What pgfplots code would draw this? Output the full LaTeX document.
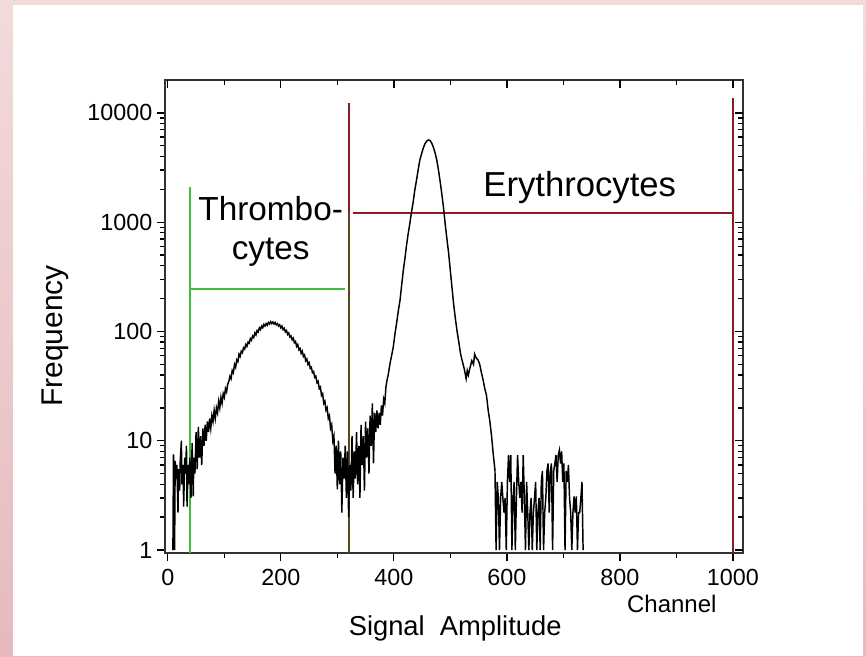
\documentclass[border=0pt]{standalone}
\usepackage{fontspec}
\setmainfont{Liberation Sans}
\usepackage{pgfplots}
\pgfplotsset{compat=1.18}

\definecolor{pinktop}{RGB}{242,218,219}
\definecolor{pinkbot}{RGB}{230,186,191}
\definecolor{thrgreen}{RGB}{60,190,60}
\definecolor{eryred}{RGB}{140,25,35}
\definecolor{olivedark}{RGB}{85,75,30}
\definecolor{framegray}{RGB}{50,50,50}

\begin{document}
\begin{tikzpicture}
% page background: pink border and white panel (866 x 656 px, 1px = 0.75pt)
\shade[top color=pinktop, bottom color=pinkbot] (0pt,0pt) rectangle (649.5pt,492pt);
\fill[white] (9.75pt,0pt) rectangle (647.25pt,488.25pt);

\begin{axis}[
  at={(123.75pt,77.25pt)}, anchor=south west,
  scale only axis, width=433.5pt, height=354.75pt,
  xmin=-5, xmax=1018,
  ymode=log, ymin=0.94, ymax=20000,
  xtick={0,200,...,1000}, minor xtick={100,300,...,900},
  ytick={1,10,100,1000,10000},
  minor ytick={2,3,...,9,20,30,...,90,200,300,...,900,2000,3000,...,9000},
  major tick length=6pt, minor tick length=3.5pt,
  tick style={line width=1pt, black},
  xtick pos=left, ytick pos=left, tick align=outside,
  xticklabels={0,200,400,600,800,1000},
  yticklabels={1,10,100,1000,10000},
  ticklabel style={font=\fontsize{17.5}{17.5}\selectfont},
  xticklabel style={yshift=-3pt},
  axis line style={line width=1.7pt, framegray},
  xlabel={Signal\ \ Amplitude},
  xlabel style={font=\fontsize{20.5}{20.5}\selectfont, at={(axis description cs:0.502,0)}, anchor=base, yshift=-61.5pt},
  ylabel={Frequency},
  ylabel style={font=\fontsize{22.5}{22.5}\selectfont, at={(axis description cs:-0.178,0.459)}, anchor=base},
  clip=false,
]
% region markers
\addplot[thrgreen, line width=1.5pt] coordinates {(39,0.94) (39,2100)};
\addplot[thrgreen, line width=1.3pt] coordinates {(39,245) (313,245)};
\addplot[eryred, line width=1.5pt] coordinates {(320,0.94) (320,12300)};
\addplot[olivedark, line width=1.5pt] coordinates {(320,0.94) (320,1216)};
\addplot[eryred, line width=1.3pt] coordinates {(327,1216) (998,1216)};
\addplot[eryred, line width=1.5pt] coordinates {(1000,0.94) (1000,13700)};

% histogram
\addplot[black, line width=1.1pt] coordinates {
(9,1) (10,7.5) (11,6) (12,1) (13,6.5) (15,4.5) (16,6) (18,2.2) (19,5.5) (21,3.5)
(22,6.6) (24,10) (25,4) (27,6) (28,2.5) (30,7) (31,5) (33,9) (34,2.5) (36,6)
(37,4) (39,7) (41,3) (43,9.5) (45,3.1) (46,7) (48,5) (50,12) (52,5.5) (54,13.4)
(56,7) (58,11) (60,6) (62,13) (64,9) (66,14) (68,10) (70,15) (72,12) (74,16)
(76,13) (78,17)
(80,15) (82,19) (84,16) (86,20) (88,18) (90,23) (92,20) (94,25) (96,22) (98,27)
(100,25) (102,30) (104,28) (106,33) (108,35) (110,39) (112,37) (114,44) (116,42) (118,50)
(120,47) (122,55) (124,53) (126,62) (128,59) (130,66) (132,64) (134,71) (136,69) (138,76)
(140,73) (142,80) (144,78) (146,86) (148,83) (150,91) (152,88) (154,97) (156,93) (158,102)
(160,99) (162,108) (164,104) (166,112) (168,108) (170,116) (172,112) (174,118) (176,114) (178,121)
(180,117) (182,123) (184,118) (186,122) (188,117) (190,121) (192,115) (194,118) (196,112) (198,115)
(200,108) (202,112) (204,104) (206,107) (208,99) (210,102) (212,94) (214,97) (216,89) (218,91)
(220,84) (222,87) (224,79) (226,81) (228,73) (230,76) (232,68) (234,70) (236,63) (238,66)
(240,59) (242,61) (244,54) (246,56) (248,50) (250,52) (252,46) (254,47) (256,42) (258,43)
(260,38) (262,39) (264,34) (266,35) (268,30) (270,31) (272,26) (274,27) (276,22) (278,23)
(280,19) (282,20) (284,16) (286,17) (288,13) (290,14) (292,10) (294,11)
(296,5) (298,9) (300,3.6) (302,10) (304,4) (306,8) (308,2.2) (310,7) (312,4.5) (314,9)
(316,3) (318,8) (320,2) (322,6) (324,3.5) (326,11) (328,3) (330,8) (332,4.5) (334,12)
(336,4) (338,9) (340,3) (342,14) (344,6) (346,11) (348,3.5) (350,15) (352,7) (354,13)
(356,5) (358,17) (360,9) (362,22) (364,6.2) (366,18) (368,12) (370,19) (372,13) (374,18)
(376,14) (378,21) (380,17) (382,24) (384,22) (386,31)
(388,36) (390,40) (393,50) (396,60) (399,72) (402,95) (405,120) (408,155) (411,194) (414,270)
(417,370) (420,480) (422,590) (425,760) (428,950) (431,1210) (434,1500) (437,1950) (440,2400) (443,3000)
(446,3700) (449,4200) (452,4750) (455,5200) (458,5500) (461,5650) (464,5600) (467,5300) (470,4850) (473,4300)
(476,3700) (479,3000) (482,2350) (485,1800) (488,1350) (491,950) (494,700) (497,520) (500,360) (503,250)
(506,175) (509,130) (512,100) (515,80) (518,63) (521,54) (524,47) (526,42) (528,37) (530,44)
(532,40) (535,47) (538,54) (541,50) (543,62) (546,57) (549,55) (552,50) (555,42) (558,36)
(561,30) (564,26) (567,19) (570,15) (573,11) (576,7.5) (579,5.4)
(581,1) (583,4.2) (585,3) (587,1) (589,3) (591,4.2) (593,3) (595,2.2) (597,3) (599,1)
(601,4.2) (603,7.4) (605,4.2) (607,7.4) (609,1) (611,3) (613,4.2) (615,1) (617,3) (619,7.4)
(621,4.2) (623,3) (625,4.2) (627,2.2) (629,7.4) (631,3) (633,1) (635,4.2) (637,2.2) (639,1)
(641,2.2) (643,3) (645,1) (647,2.2) (649,3) (651,4.2) (653,1) (655,2.2) (657,3) (659,1)
(661,4.2) (663,5.3) (665,1) (667,2.2) (669,3) (671,5.3) (673,6.2) (675,2.2) (677,5.3) (679,6.2)
(681,1) (683,5.3) (685,6.2) (687,7.4) (689,4.2) (691,7.4) (693,8.2) (695,6.2) (697,8) (699,4.2)
(701,6.2) (703,1) (705,5.3) (707,4.2) (709,6) (711,3) (713,2.2) (715,1) (717,2.2) (719,3.1)
(721,2.2) (723,3.1) (725,1) (727,2.2) (729,2.2) (731,3) (733,4.2) (735,1)
};

% annotations
\node[anchor=base, font=\fontsize{25}{25}\selectfont, inner sep=0pt] at (axis cs:182,1026) {Thrombo-};
\node[anchor=base, font=\fontsize{25}{25}\selectfont, inner sep=0pt] at (axis cs:182,451) {cytes};
\node[anchor=base, font=\fontsize{26}{26}\selectfont, inner sep=0pt] at (axis cs:729,1702) {Erythrocytes};
\node[anchor=base, font=\fontsize{18}{18}\selectfont, inner sep=0pt] at (axis cs:892,0.2707) {Channel};
\end{axis}

% mirrored ticks on top and right, pointing inwards
\begin{axis}[
  at={(123.75pt,77.25pt)}, anchor=south west,
  scale only axis, width=433.5pt, height=354.75pt,
  xmin=-5, xmax=1018,
  ymode=log, ymin=0.94, ymax=20000,
  xtick={0,200,...,1000}, minor xtick={100,300,...,900},
  ytick={1,10,100,1000,10000},
  minor ytick={2,3,...,9,20,30,...,90,200,300,...,900,2000,3000,...,9000},
  major tick length=6pt, minor tick length=3.5pt,
  tick style={line width=1pt, black},
  axis line style={draw=none},
  xtick pos=right, ytick pos=right, tick align=inside,
  xticklabels={}, yticklabels={},
]
\addplot[draw=none] coordinates {(0,1) (1000,1)};
\end{axis}
\end{tikzpicture}
\end{document}
